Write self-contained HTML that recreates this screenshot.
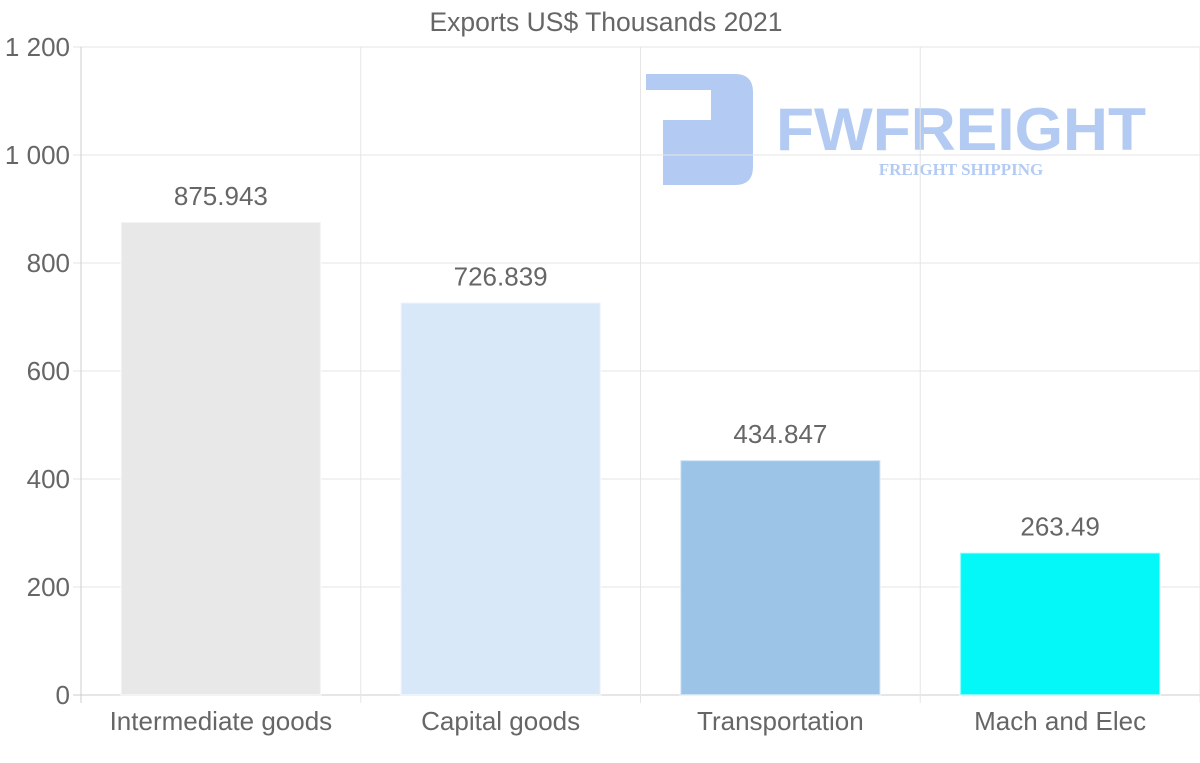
<!DOCTYPE html>
<html><head><meta charset="utf-8"><style>
body{margin:0;background:#fff;}
svg{display:block;font-family:"Liberation Sans",sans-serif;}
</style></head><body>
<svg id="chart" width="1200" height="763">
<text x="606" y="31" text-anchor="middle" font-size="26.5" fill="#666">Exports US$ Thousands 2021</text>
<g fill="#b3cbf3">
<path d="M646 74 H735 Q753 74 753 92 V167 Q753 185 735 185 H663 V120 H711 V90 H646 Z"/>
<text x="776" y="150" font-size="60" font-weight="bold" fill="#b3cbf3" textLength="370" lengthAdjust="spacingAndGlyphs">FWFREIGHT</text>
<text x="961" y="175" text-anchor="middle" font-family="Liberation Serif,serif" font-size="17" font-weight="bold" fill="#b3cbf3">FREIGHT SHIPPING</text>
</g>
<g id="grid"></g><g id="bars"></g><g id="labels"></g>
</svg>
<script>
const categories=["Intermediate goods","Capital goods","Transportation","Mach and Elec"];
const values=[875.943,726.839,434.847,263.49];
const valueLabels=["875.943","726.839","434.847","263.49"];
const colors=["#e8e8e8","#d9e8f8","#9bc4e6","#05f8f8"];
const yTicks=[0,200,400,600,800,1000,1200];
const yTickLabels=["0","200","400","600","800","1 000","1 200"];
const L=81,R=1200,T=47,B=695,yMax=1200;
const y=v=>B-(v/yMax)*(B-T);
const bw=(R-L)/categories.length;
const x=i=>L+i*bw;
const ns="http://www.w3.org/2000/svg";
function mk(tag,attrs,parent){const e=document.createElementNS(ns,tag);for(const k in attrs)e.setAttribute(k,attrs[k]);document.getElementById(parent).appendChild(e);return e;}
yTicks.forEach((t,i)=>{
 const g=mk("line",{x1:L-8,x2:R,y1:y(t),y2:y(t),stroke:t===0?"#ccc":"#e5e5e5"},"grid");
 
 
 const tx=mk("text",{x:70,y:y(t)+9,"text-anchor":"end","font-size":26,fill:"#666"},"labels");
 tx.textContent=yTickLabels[i];
 
 
});
for(let i=0;i<=categories.length;i++){
 const g=mk("line",{x1:x(i),x2:x(i),y1:T,y2:B+8,stroke:i===0?"#ccc":"#e5e5e5"},"grid");
 
 
}
categories.forEach((c,i)=>{
 const cx=x(i)+bw/2;
 const b=mk("rect",{x:cx-100,y:y(values[i]),width:200,height:B-y(values[i]),fill:colors[i],stroke:"#fff","stroke-opacity":0.5,"stroke-width":2},"bars");
 
 
 const v=mk("text",{x:cx,y:y(values[i])-17,"text-anchor":"middle","font-size":26,fill:"#666"},"labels");
 v.textContent=valueLabels[i];
 
 
 const l=mk("text",{x:cx,y:730,"text-anchor":"middle","font-size":26,fill:"#666"},"labels");
 l.textContent=c;
 
 
});
</script>
</body></html>
